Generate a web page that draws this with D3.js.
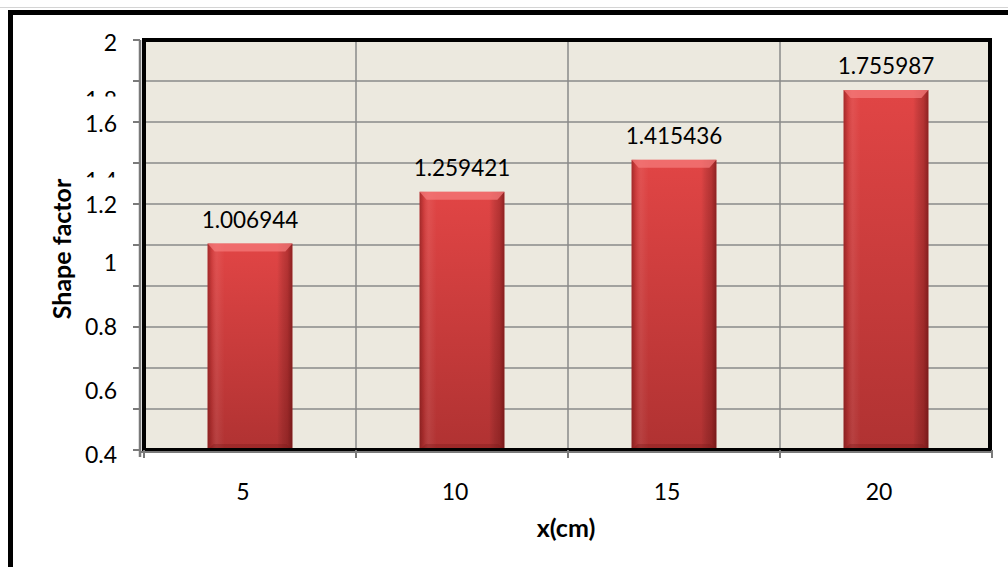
<!DOCTYPE html>
<html>
<head>
<meta charset="utf-8">
<script src="https://cdn.jsdelivr.net/npm/d3@7"></script>
<style>
  html, body { margin: 0; padding: 0; background: #ffffff; }
  svg { display: block; }
  text { font-family: "Lato", "Open Sans", sans-serif; fill: #000; }
</style>
</head>
<body>
<svg id="chart" width="1008" height="567"></svg>
<script>
// Shape factor measured at each distance x (cm)
const categories = ["5", "10", "15", "20"];
const shapeFactor = [1.006944, 1.259421, 1.415436, 1.755987];

// Value axis: 0 to 2, gridline every 0.2
const yDomain = [0, 2];
const gridStep = 0.2;
// Labels printed along the value axis, and the ones drawn cut off
const yTickLabels = ["2", "1.8", "1.6", "1.4", "1.2", "1", "0.8", "0.6", "0.4"];
const clippedTickLabels = ["1.8", "1.4"];

const xTitle = "x(cm)";
const yTitle = "Shape factor";

const svg = d3.select("#chart");
const W = 1008, H = 567;
const plot = { left: 144, right: 990, top: 40, bottom: 450 };

const x = d3.scaleBand()
  .domain(categories)
  .range([plot.left, plot.right + 2])
  .paddingInner(0.6)
  .paddingOuter(0.3);

const y = d3.scaleLinear().domain(yDomain).range([plot.bottom, plot.top]);

// The axis labels sit on their own uneven ladder beside the gridlines
const labelY = d3.scaleLinear()
  .domain([0.4, 1, 1.2, 2])
  .range([plot.bottom + 5, plot.top + 223, plot.top + 165, plot.top + 3]);

// ---- outer frame ----
svg.append("line")
  .attr("x1", 0).attr("x2", W).attr("y1", 7.5).attr("y2", 7.5)
  .attr("stroke", "#d4d4d4").attr("stroke-width", 1);
svg.append("rect")
  .attr("x", 10.5).attr("y", 12.5).attr("width", 1100).attr("height", 700)
  .attr("fill", "none").attr("stroke", "#000").attr("stroke-width", 5);

// ---- gradients for the bevelled bars ----
const defs = svg.append("defs");
const body = defs.append("linearGradient").attr("id", "barBody")
  .attr("x1", 0).attr("y1", 0).attr("x2", 0).attr("y2", 1);
body.append("stop").attr("offset", "0%").attr("stop-color", "#e14545");
body.append("stop").attr("offset", "100%").attr("stop-color", "#b03232");

const sides = defs.append("linearGradient").attr("id", "barSides")
  .attr("x1", 0).attr("y1", 0).attr("x2", 1).attr("y2", 0);
[["0%", "#5a0a0a", 0.45], ["5%", "#5a0a0a", 0.12], ["11%", "#ffffff", 0.07],
 ["20%", "#ffffff", 0.0], ["82%", "#000000", 0.0], ["94%", "#3c0000", 0.25],
 ["100%", "#3c0000", 0.5]].forEach(([o, c, a]) =>
  sides.append("stop").attr("offset", o).attr("stop-color", c).attr("stop-opacity", a));

// ---- plot area ----
svg.append("rect")
  .attr("x", plot.left).attr("y", plot.top)
  .attr("width", plot.right - plot.left).attr("height", plot.bottom - plot.top)
  .attr("fill", "#ece9df");

const gridVals = d3.range(yDomain[0], yDomain[1] + gridStep / 2, gridStep);

svg.append("g").selectAll("line")
  .data(gridVals.slice(1, -1))
  .join("line")
  .attr("x1", plot.left).attr("x2", plot.right)
  .attr("y1", d => y(d)).attr("y2", d => y(d))
  .attr("stroke", "#8a8a8a").attr("stroke-width", 1.5);

// vertical gridlines on the category boundaries
const edgeX = d3.range(categories.length + 1).map(i => plot.left + i * x.step());
svg.append("g").selectAll("line")
  .data(edgeX.slice(1, -1))
  .join("line")
  .attr("x1", d => d).attr("x2", d => d)
  .attr("y1", plot.top).attr("y2", plot.bottom)
  .attr("stroke", "#8a8a8a").attr("stroke-width", 1.5);

// ---- bars ----
const data = categories.map((c, i) => ({ c, v: shapeFactor[i] }));
const bars = svg.append("g").selectAll("g").data(data).join("g");

bars.append("rect")
  .attr("x", d => x(d.c)).attr("y", d => y(d.v))
  .attr("width", x.bandwidth()).attr("height", d => y(0) - y(d.v))
  .attr("fill", "url(#barBody)");
bars.append("rect")
  .attr("x", d => x(d.c)).attr("y", d => y(d.v))
  .attr("width", x.bandwidth()).attr("height", d => y(0) - y(d.v))
  .attr("fill", "url(#barSides)");
// top bevel
bars.append("polygon")
  .attr("points", d => {
    const x0 = x(d.c), x1 = x0 + x.bandwidth(), t = y(d.v);
    return [[x0, t], [x1, t], [x1 - 7, t + 8], [x0 + 7, t + 8]].join(" ");
  })
  .attr("fill", "#f47a7a").attr("opacity", 0.75);
// bottom bevel
bars.append("polygon")
  .attr("points", d => {
    const x0 = x(d.c), x1 = x0 + x.bandwidth(), b = y(0);
    return [[x0, b], [x1, b], [x1 - 6, b - 6], [x0 + 6, b - 6]].join(" ");
  })
  .attr("fill", "#7a1a1a").attr("opacity", 0.35);

// value labels
bars.append("text")
  .attr("x", d => x(d.c) + x.bandwidth() / 2)
  .attr("y", d => y(d.v) - 16)
  .attr("text-anchor", "middle")
  .attr("font-size", 22.5)
  .text(d => d.v);

// ---- frame and axes ----
svg.append("rect")
  .attr("x", plot.left).attr("y", plot.top)
  .attr("width", plot.right - plot.left).attr("height", plot.bottom - plot.top)
  .attr("fill", "none").attr("stroke", "#000").attr("stroke-width", 4);

svg.append("line")
  .attr("x1", plot.left - 4).attr("x2", plot.left - 4)
  .attr("y1", plot.top).attr("y2", plot.bottom + 7)
  .attr("stroke", "#7a7a7a").attr("stroke-width", 2.5);
svg.append("line")
  .attr("x1", plot.left - 4).attr("x2", plot.right + 2)
  .attr("y1", plot.bottom + 2).attr("y2", plot.bottom + 2)
  .attr("stroke", "#7a7a7a").attr("stroke-width", 2);

// y tick marks
svg.append("g").selectAll("line")
  .data(gridVals)
  .join("line")
  .attr("x1", plot.left - 11).attr("x2", plot.left - 4)
  .attr("y1", d => y(d)).attr("y2", d => y(d))
  .attr("stroke", "#7a7a7a").attr("stroke-width", 2);

// x tick marks
svg.append("g").selectAll("line")
  .data(edgeX)
  .join("line")
  .attr("x1", d => d).attr("x2", d => d)
  .attr("y1", plot.bottom).attr("y2", plot.bottom + 8)
  .attr("stroke", "#7a7a7a").attr("stroke-width", 2);

// y tick labels; the cut-off ones only show the top strip of their glyphs
const yl = svg.append("g");
yTickLabels.forEach((lab, i) => {
  const v = +lab;
  const cut = clippedTickLabels.includes(lab);
  const cy = labelY(v) + (cut ? 16 : 0);
  const t = yl.append("text")
    .attr("x", 117).attr("y", cy)
    .attr("dy", "0.36em")
    .attr("text-anchor", "end")
    .attr("font-size", 23)
    .text(lab);
  if (cut) {
    const id = "cut" + i;
    defs.append("clipPath").attr("id", id)
      .append("rect").attr("x", 60).attr("y", cy - 14).attr("width", 70).attr("height", 11);
    t.attr("clip-path", `url(#${id})`);
  }
});

// x tick labels
svg.append("g").selectAll("text")
  .data(categories)
  .join("text")
  .attr("x", d => x(d) + x.bandwidth() / 2 - 7)
  .attr("y", 492)
  .attr("dy", "0.36em")
  .attr("text-anchor", "middle")
  .attr("font-size", 23)
  .text(d => d);

// axis titles
svg.append("text")
  .attr("x", 566).attr("y", 528).attr("dy", "0.36em")
  .attr("text-anchor", "middle")
  .attr("font-size", 25).attr("font-weight", "bold")
  .text(xTitle);

svg.append("text")
  .attr("transform", "translate(62,249) rotate(-90)")
  .attr("dy", "0.36em")
  .attr("text-anchor", "middle")
  .attr("font-size", 25).attr("font-weight", "bold")
  .text(yTitle);
</script>
</body>
</html>
